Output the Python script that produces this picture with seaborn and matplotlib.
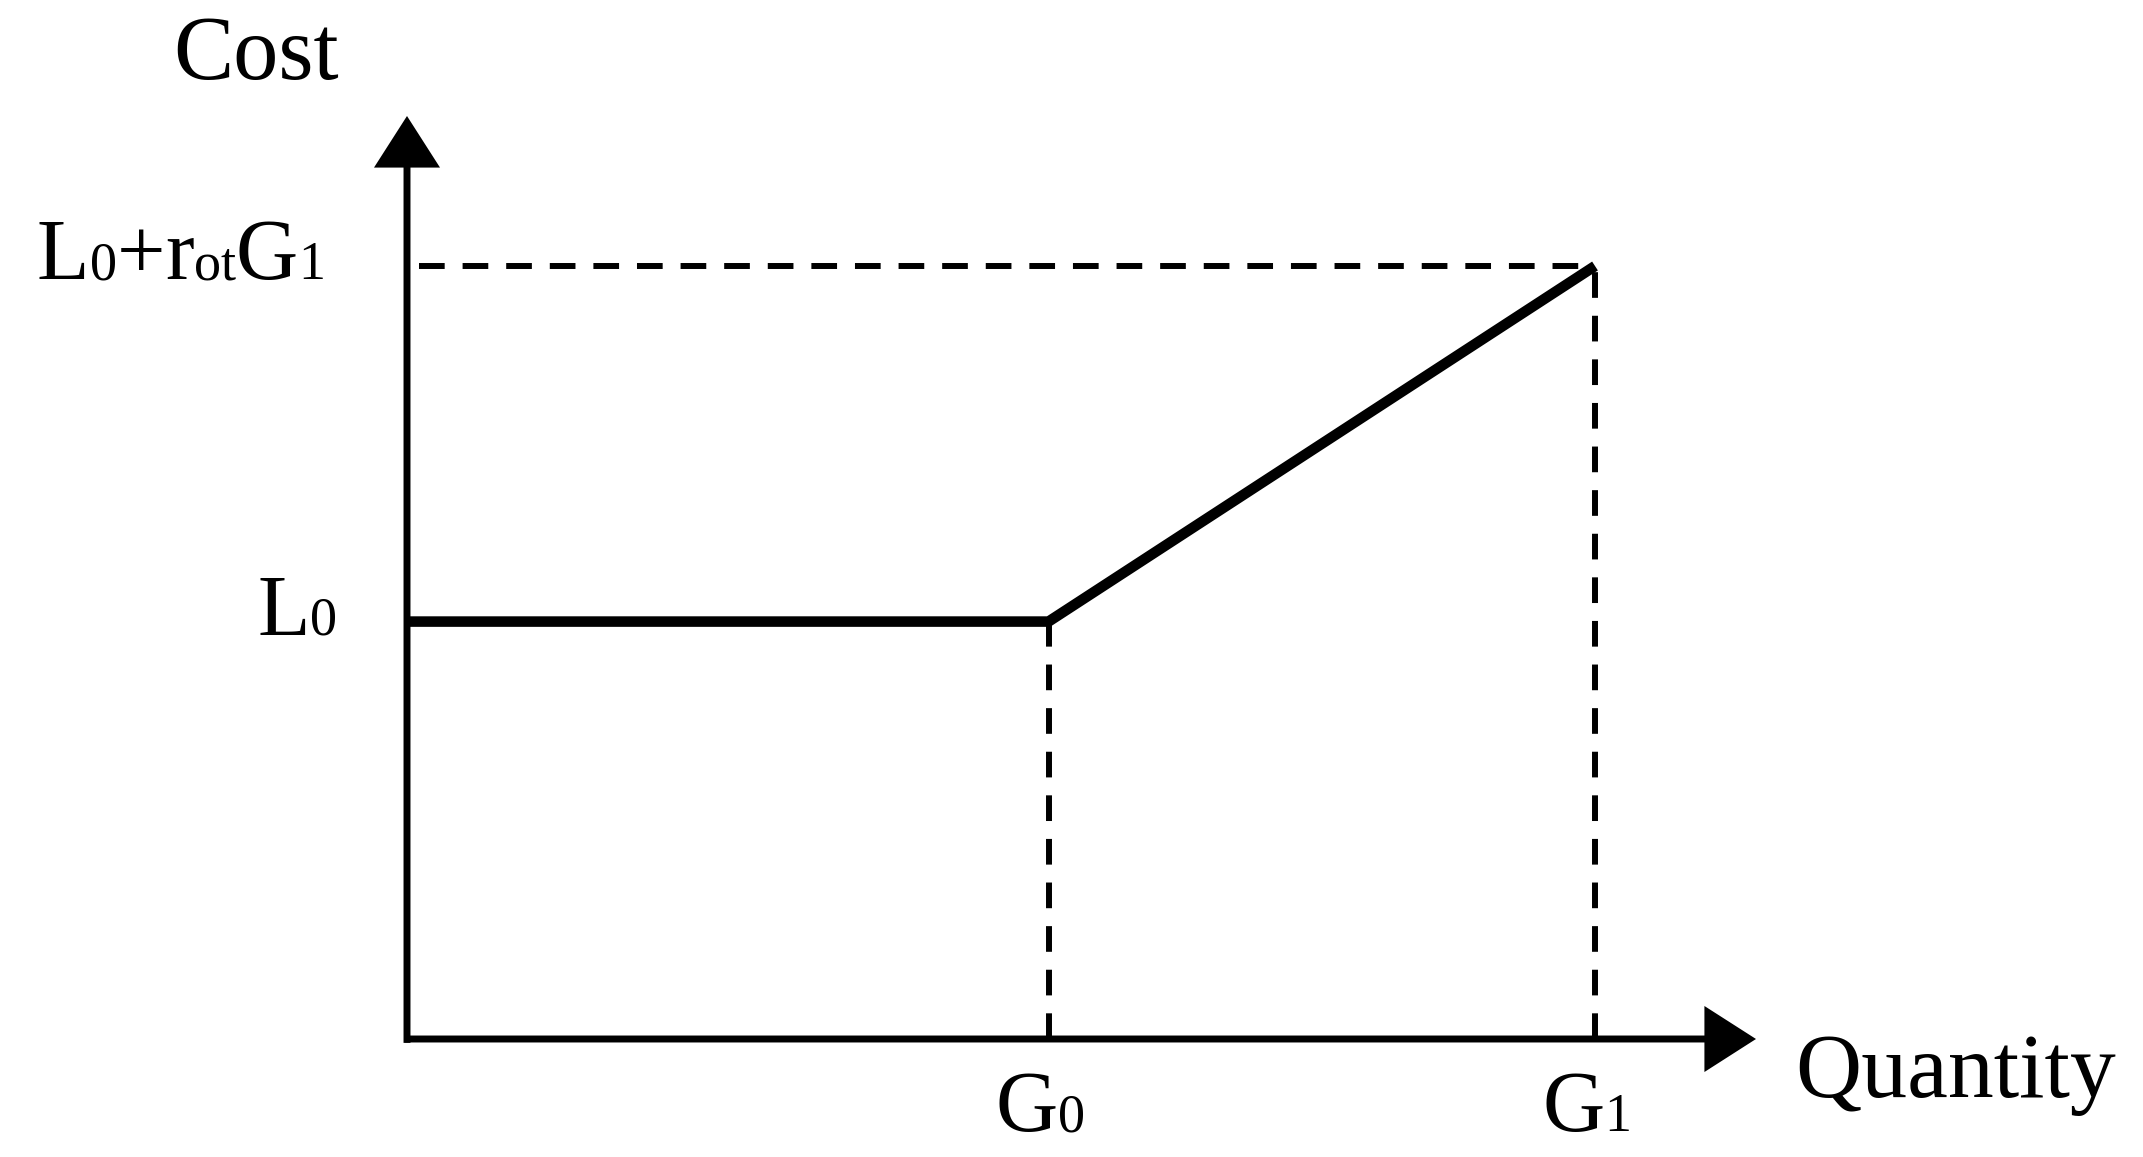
import numpy as np
import pandas as pd
import seaborn as sns
import matplotlib
matplotlib.use("Agg")
import matplotlib.pyplot as plt
from matplotlib.transforms import IdentityTransform

# ---- data (conceptual cost curve) ----
quantity = [0.0, 5.4, 10.0]          # 0, G0, G1
cost = [5.4, 5.4, 10.0]              # L0, L0, L0 + r_ot*G1
g_positions = [5.4, 10.0]            # G0, G1
g_labels = [("G", "0"), ("G", "1")]
y_levels = [5.4, 10.0]               # L0, L0 + r_ot*G1
y_labels = [[("L", "b"), ("0", "s")],
            [("L", "b"), ("0", "s"), ("+", "b"), ("r", "b"), ("ot", "s"), ("G", "b"), ("1", "s")]]
x_title = "Quantity"
y_title = "Cost"

sns.set_theme(style="white")
plt.rcParams["font.family"] = ["Liberation Serif", "DejaVu Serif"]
plt.rcParams["text.color"] = "black"

W, H, DPI = 2143, 1157, 100
fig = plt.figure(figsize=(W / DPI, H / DPI), dpi=DPI)
fig.patch.set_facecolor("white")

ox, oy = 407, 1039          # origin in image pixels
xr, yt = 1756, 116          # arrow tips
xmax = (xr - ox) / 118.8
ymax = (oy - yt) / 77.3
ax = fig.add_axes([ox / W, (H - oy) / H, (xr - ox) / W, (oy - yt) / H])
ax.set_xlim(0, xmax)
ax.set_ylim(0, ymax)
ax.set_facecolor("white")
for s in ax.spines.values():
    s.set_visible(False)
ax.set_xticks([])
ax.set_yticks([])

df = pd.DataFrame({"quantity": quantity, "cost": cost})
sns.lineplot(data=df, x="quantity", y="cost", ax=ax, color="black",
             lw=7.6, estimator=None, sort=False, solid_capstyle="butt",
             solid_joinstyle="miter")

dash = (0, (4.3, 3.0))
ax.hlines(y_levels[1], 0.1, g_positions[1], colors="black", lw=4.3, linestyles=[dash])
ax.vlines(g_positions[0], 0, y_levels[0], colors="black", lw=4.3, linestyles=[dash])
ax.vlines(g_positions[1], 0, y_levels[1], colors="black", lw=4.3, linestyles=[dash])

arrow = dict(arrowstyle="-|>,head_length=0.5,head_width=0.32", mutation_scale=60,
             lw=5, color="black", shrinkA=0, shrinkB=0, capstyle="butt",
             joinstyle="miter")
ax.annotate("", xy=(xmax, 0), xytext=(-0.02, 0), arrowprops=arrow, annotation_clip=False)
ax.annotate("", xy=(0, ymax), xytext=(0, -0.05), arrowprops=arrow, annotation_clip=False)

BIG, SMALL = 62, 39
renderer = fig.canvas.get_renderer()


def rich(x_img, base_img, pieces, align="left"):
    tr = IdentityTransform()
    y = H - base_img
    texts, cur = [], 0.0
    for s, kind in pieces:
        size = BIG if kind == "b" else SMALL
        t = fig.text(x_img + cur, y, s, fontsize=size, va="baseline", ha="left",
                     transform=tr, color="black")
        cur += t.get_window_extent(renderer).width
        texts.append(t)
    shift = {"left": 0, "center": -cur / 2, "right": -cur}[align]
    for t in texts:
        px, py = t.get_position()
        t.set_position((px + shift, py))


def to_img_x(v):
    return ox + v * 118.8


def to_img_y(v):
    return oy - v * 77.3


rich(181, 279, y_labels[1], "center")
rich(337, to_img_y(y_levels[0]) + 13, y_labels[0], "right")
for pos, (a, b) in zip(g_positions, g_labels):
    rich(to_img_x(pos) - 8, 1131, [(a, "b"), (b, "s")], "center")

fig.text(173, H - 79, y_title, fontsize=65, va="baseline", ha="left",
         transform=IdentityTransform(), color="black")
fig.text(1795, H - 1097, x_title, fontsize=66, va="baseline", ha="left",
         transform=IdentityTransform(), color="black")

fig.savefig("out.png", dpi=DPI, facecolor="white")
